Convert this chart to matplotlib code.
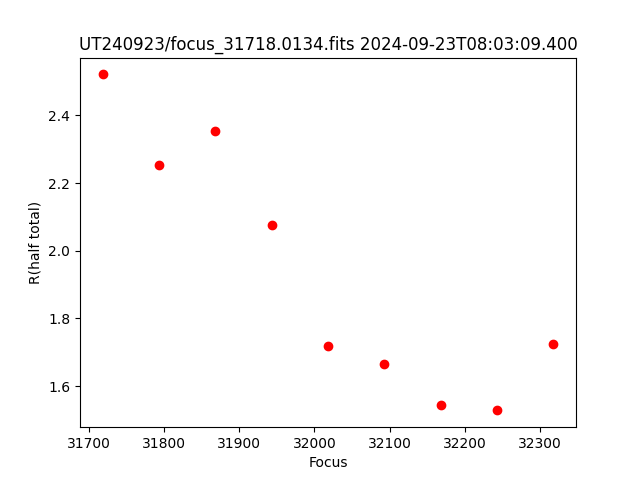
import matplotlib
matplotlib.use("Agg")
import matplotlib.pyplot as plt

focus = [31718, 31793, 31868, 31943, 32018, 32093, 32168, 32243, 32318]
r_half = [2.521, 2.252, 2.353, 2.076, 1.717, 1.665, 1.543, 1.528, 1.725]

fig, ax = plt.subplots(figsize=(6.4, 4.8), dpi=100)
ax.plot(focus, r_half, "ro")
ax.set_xlabel("Focus")
ax.set_ylabel("R(half total)")
ax.set_title("UT240923/focus_31718.0134.fits 2024-09-23T08:03:09.400")
fig.savefig("out.png")
